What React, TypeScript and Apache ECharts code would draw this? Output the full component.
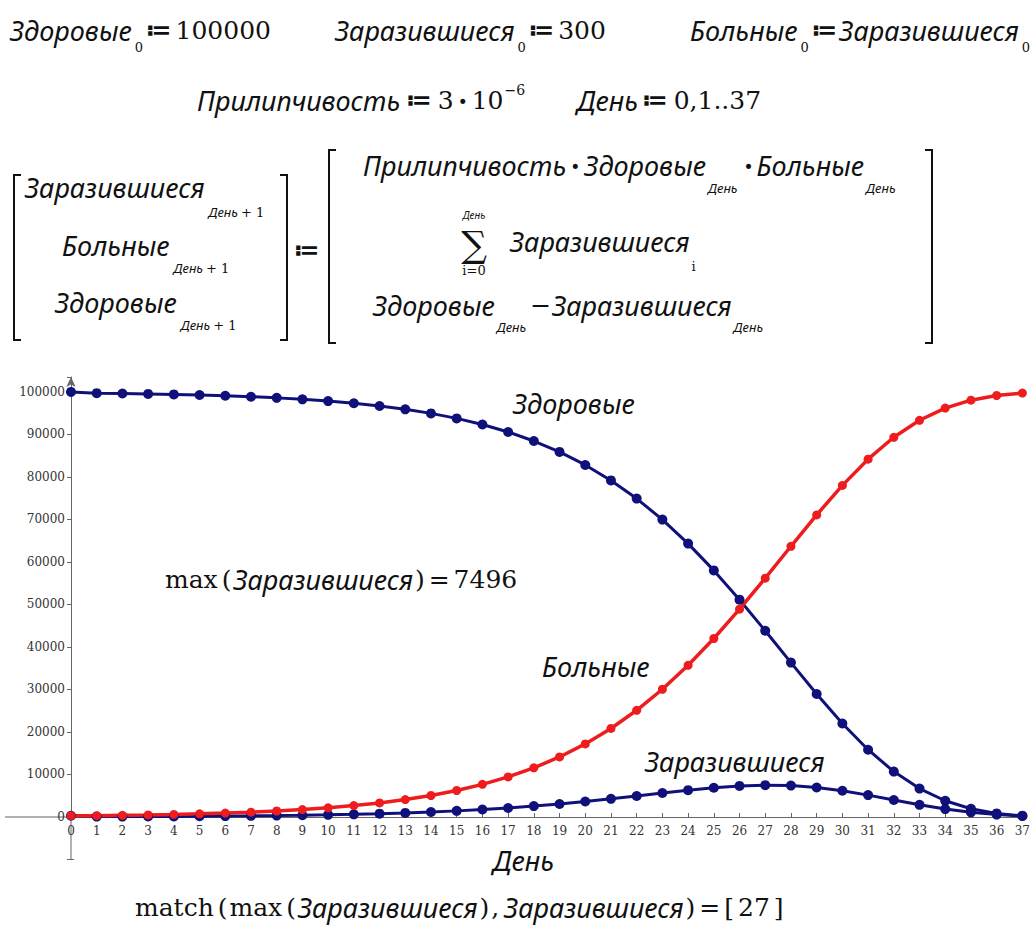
import React, { useEffect, useRef } from "react";
import * as echarts from "echarts";

// ---- data ----
const days: number[] = [0,1,2,3,4,5,6,7,8,9,10,11,12,13,14,15,16,17,18,19,20,21,22,23,24,25,26,27,28,29,30,31,32,33,34,35,36,37];
const zdorovye: number[] = [100000, 99700, 99610, 99520, 99404, 99261, 99083, 98862, 98590, 98252, 97835, 97320, 96685, 95903, 94941, 93762, 92321, 90567, 88440, 85877, 82809, 79171, 74900, 69953, 64313, 58008, 51122, 43815, 36318, 28933, 21995, 15826, 10679, 6683, 3821, 1950, 848, 274];
const zarazivshiesya: number[] = [300, 90, 90, 117, 143, 178, 220, 273, 337, 417, 515, 635, 782, 962, 1179, 1441, 1755, 2127, 2563, 3067, 3639, 4271, 4947, 5640, 6306, 6885, 7308, 7496, 7385, 6938, 6169, 5147, 3997, 2862, 1871, 1103, 574, 252];
const bolnye: number[] = [300, 300, 390, 480, 596, 740, 917, 1138, 1410, 1748, 2165, 2680, 3315, 4097, 5059, 6238, 7679, 9434, 11560, 14123, 17191, 20829, 25100, 30047, 35687, 41992, 48878, 56185, 63682, 71067, 78005, 84174, 89321, 93317, 96179, 98050, 99152, 99726];
const yTicks = { min: 0, max: 103500, interval: 10000, lastLabel: 100000, below: -10000 };

// ---- styles ----
type St = { fontFamily: string; fontSize: number; fontStyle?: string; fontWeight?: string };
const V: St = { fontFamily: '"Noto Sans"', fontSize: 27, fontStyle: "italic" };
const SV: St = { fontFamily: '"Noto Sans"', fontSize: 13, fontStyle: "italic" };
const SV2: St = { fontFamily: '"Noto Sans"', fontSize: 10, fontStyle: "italic" };
const N: St = { fontFamily: '"DejaVu Serif"', fontSize: 25 };
const SN: St = { fontFamily: '"DejaVu Serif"', fontSize: 13 };
const SUP: St = { fontFamily: '"DejaVu Serif"', fontSize: 14 };
const OP: St = { fontFamily: '"DejaVu Sans"', fontSize: 24, fontWeight: "bold" };
const DOT: St = { fontFamily: '"DejaVu Sans"', fontSize: 17 };
const SUM: St = { fontFamily: '"DejaVu Serif"', fontSize: 36 };

let ctx: CanvasRenderingContext2D | null = null;
function measure(text: string, st: St): number {
  if (!ctx) ctx = document.createElement("canvas").getContext("2d");
  if (!ctx) return text.length * st.fontSize * 0.55;
  ctx.font = `${st.fontStyle || "normal"} ${st.fontWeight || "normal"} ${st.fontSize}px ${st.fontFamily}`;
  return ctx.measureText(text).width;
}

function txt(x: number, y: number, text: string, st: St, align: string = "left") {
  return {
    type: "text",
    x,
    y,
    silent: true,
    style: {
      text,
      fill: "#111",
      fontFamily: st.fontFamily,
      fontSize: st.fontSize,
      fontStyle: st.fontStyle || "normal",
      fontWeight: st.fontWeight || "normal",
      align,
      verticalAlign: "middle",
    },
  };
}

type Piece = [string, St, { gap?: number; dy?: number }?];
function flow(x0: number, y: number, pieces: Piece[]) {
  const out: any[] = [];
  let x = x0;
  pieces.forEach(([t, st, o]) => {
    x += (o && o.gap) || 0;
    out.push(txt(x, y + ((o && o.dy) || 0), t, st));
    x += measure(t, st);
  });
  return out;
}

function bracket(x: number, top: number, bottom: number, dir: number) {
  return {
    type: "polyline",
    silent: true,
    shape: { points: [[x + 7 * dir, top], [x, top], [x, bottom], [x + 7 * dir, bottom]] },
    style: { stroke: "#111", lineWidth: 2, fill: null },
  };
}

function buildTexts() {
  const els: any[] = [];
  // Row 1
  els.push(...flow(10, 30, [["Здоровые", V], ["0", SN, { dy: 17, gap: 3 }], ["≔", OP, { gap: 3 }], ["100000", N, { gap: 4 }]]));
  els.push(...flow(335, 30, [["Заразившиеся", V], ["0", SN, { dy: 17, gap: 3 }], ["≔", OP, { gap: 3 }], ["300", N, { gap: 4 }]]));
  els.push(...flow(690, 30, [["Больные", V], ["0", SN, { dy: 17, gap: 3 }], ["≔", OP, { gap: 3 }], ["Заразившиеся", V, { gap: 2 }], ["0", SN, { dy: 17, gap: 3 }]]));
  // Row 2
  els.push(...flow(197, 100, [["Прилипчивость", V], ["≔", OP, { gap: 6 }], ["3", N, { gap: 6 }], ["•", DOT, { gap: 4, dy: 2 }], ["10", N, { gap: 4 }], ["−6", SUP, { dy: -10, gap: 1 }]]));
  els.push(...flow(577, 100, [["День", V], ["≔", OP, { gap: 4 }], ["0,1..37", N, { gap: 6 }]]));
  // Left matrix
  els.push(bracket(14, 175, 340, 1));
  els.push(...flow(25, 187, [["Заразившиеся", V], ["День", SV, { dy: 25, gap: 4 }], ["+ 1", SN, { dy: 25, gap: 3 }]]));
  els.push(...flow(62, 245, [["Больные", V], ["День", SV, { dy: 23, gap: 4 }], ["+ 1", SN, { dy: 23, gap: 3 }]]));
  els.push(...flow(55, 302, [["Здоровые", V], ["День", SV, { dy: 23, gap: 4 }], ["+ 1", SN, { dy: 23, gap: 3 }]]));
  els.push(bracket(287, 175, 340, -1));
  els.push(txt(294, 250, "≔", OP));
  // Right matrix
  els.push(bracket(329, 150, 343, 1));
  els.push(bracket(932, 150, 343, -1));
  els.push(...flow(363, 165, [["Прилипчивость", V], ["•", DOT, { gap: 4, dy: 2 }], ["Здоровые", V, { gap: 4 }], ["День", SV, { dy: 23, gap: 2 }], ["•", DOT, { gap: 6, dy: 2 }], ["Больные", V, { gap: 3 }], ["День", SV, { dy: 23, gap: 2 }]]));
  els.push(txt(474, 215, "День", SV2, "center"));
  els.push(txt(474, 244, "∑", SUM, "center"));
  els.push(txt(474, 270, "i=0", SN, "center"));
  els.push(...flow(510, 241, [["Заразившиеся", V], ["i", SN, { dy: 25, gap: 2 }]]));
  els.push(...flow(373, 305, [["Здоровые", V], ["День", SV, { dy: 22, gap: 2 }], ["−", N, { gap: 4 }], ["Заразившиеся", V, { gap: 1 }], ["День", SV, { dy: 22, gap: 2 }]]));
  // Chart annotations
  els.push(txt(513, 403, "Здоровые", V));
  els.push(txt(542, 666, "Больные", V));
  els.push(txt(645, 761, "Заразившиеся", V));
  els.push(txt(493, 860, "День", V));
  els.push(...flow(165, 579, [["max", N], ["(", N, { gap: 4 }], ["Заразившиеся", V, { gap: 2 }], [")", N, { gap: 2 }], ["=", N, { gap: 4 }], ["7496", N, { gap: 4 }]]));
  els.push(...flow(135, 907, [["match", N], ["(", N, { gap: 4 }], ["max", N, { gap: 2 }], ["(", N, { gap: 4 }], ["Заразившиеся", V, { gap: 2 }], [")", N, { gap: 2 }], [",", N, { gap: 2 }], ["Заразившиеся", V, { gap: 5 }], [")", N, { gap: 2 }], ["=", N, { gap: 4 }], ["[", N, { gap: 4 }], ["27", N, { gap: 4 }], ["]", N, { gap: 4 }]]));
  return els;
}

const NAVY = "#10107a";
const RED = "#ee1c1c";
const AXIS = "#666";

export default function App() {
  const ref = useRef<HTMLDivElement>(null);
  useEffect(() => {
    if (!ref.current) return;
    const chart = echarts.init(ref.current, undefined, { renderer: "svg" });
    const labelStyle = { fontFamily: '"DejaVu Serif"', fontSize: 12, color: "#333" };
    const option: any = {
      animation: false,
      backgroundColor: "#fff",
      grid: { left: 71, right: 7, top: 377, bottom: 109, containLabel: false },
      xAxis: {
        type: "value",
        min: 0,
        max: 37,
        interval: 1,
        axisLine: { onZero: false, lineStyle: { color: AXIS, width: 1 } },
        axisTick: { show: true, inside: true, length: 4, lineStyle: { color: AXIS } },
        axisLabel: { ...labelStyle, margin: 8 },
        splitLine: { show: false },
      },
      yAxis: {
        type: "value",
        min: yTicks.min,
        max: yTicks.max,
        interval: yTicks.interval,
        axisLine: { show: true, onZero: false, symbol: ["none", "arrow"], symbolSize: [7, 10], lineStyle: { color: AXIS, width: 1 } },
        axisTick: { show: true, length: 4, lineStyle: { color: AXIS } },
        axisLabel: {
          ...labelStyle,
          margin: 6,
          formatter: (v: number) => (v <= yTicks.lastLabel && v % yTicks.interval === 0 ? String(v) : ""),
        },
        splitLine: { show: false },
      },
      series: [
        {
          name: "Здоровые",
          type: "line",
          data: days.map((d, i) => [d, zdorovye[i]]),
          lineStyle: { color: NAVY, width: 3 },
          itemStyle: { color: NAVY },
          symbol: "circle",
          symbolSize: 10,
        },
        {
          name: "Заразившиеся",
          type: "line",
          data: days.map((d, i) => [d, zarazivshiesya[i]]),
          lineStyle: { color: NAVY, width: 3 },
          itemStyle: { color: NAVY },
          symbol: "circle",
          symbolSize: 10,
        },
        {
          name: "Больные",
          type: "line",
          data: days.map((d, i) => [d, bolnye[i]]),
          lineStyle: { color: RED, width: 3.5 },
          itemStyle: { color: RED },
          symbol: "circle",
          symbolSize: 9,
        },
      ],
    };
    chart.setOption(option);
    const p0 = chart.convertToPixel({ xAxisIndex: 0, yAxisIndex: 0 }, [0, 0]) as number[];
    const p1 = chart.convertToPixel({ xAxisIndex: 0, yAxisIndex: 0 }, [37, 0]) as number[];
    const pb = chart.convertToPixel({ xAxisIndex: 0, yAxisIndex: 0 }, [0, yTicks.below]) as number[];
    const axisExt = [
      { type: "line", silent: true, shape: { x1: 5, y1: p0[1], x2: p0[0], y2: p0[1] }, style: { stroke: AXIS, lineWidth: 1 } },
      { type: "line", silent: true, shape: { x1: p1[0], y1: p1[1], x2: p1[0] + 5, y2: p1[1] }, style: { stroke: AXIS, lineWidth: 1 } },
      { type: "line", silent: true, shape: { x1: p0[0], y1: p0[1], x2: pb[0], y2: pb[1] }, style: { stroke: AXIS, lineWidth: 1 } },
      { type: "line", silent: true, shape: { x1: pb[0] - 4, y1: pb[1], x2: pb[0] + 3, y2: pb[1] }, style: { stroke: AXIS, lineWidth: 1 } },
    ];
    chart.setOption({ graphic: { elements: [...axisExt, ...buildTexts()] } });
    return () => chart.dispose();
  }, []);
  return (
    <div
      ref={ref}
      style={{ position: "fixed", left: 0, top: 0, width: 1033, height: 926, background: "#fff" }}
    />
  );
}
